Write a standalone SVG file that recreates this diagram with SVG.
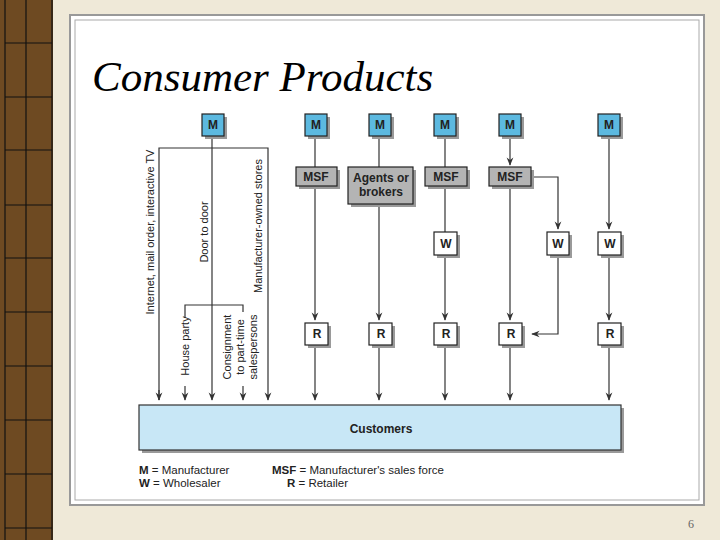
<svg xmlns="http://www.w3.org/2000/svg" width="720" height="540" viewBox="0 0 720 540">
<style>
.m{fill:#5cb9e0;stroke:#222;stroke-width:1.2}
.g{fill:#b4b4b4;stroke:#222;stroke-width:1.2}
.w{fill:#fff;stroke:#222;stroke-width:1.2}
.sh{fill:#9a9a9a}
.t{font-family:"Liberation Sans",Arial,sans-serif;font-size:12px;font-weight:bold;fill:#222;text-anchor:middle}
.l{font-family:"Liberation Sans",Arial,sans-serif;font-size:11px;fill:#222}
.c{stroke:#333;stroke-width:1.2;fill:none}
</style>
<defs>
<marker id="a" viewBox="0 0 10 10" refX="9" refY="5" markerWidth="7" markerHeight="7" orient="auto"><path d="M0,1 L10,5 L0,9 L3,5 z" fill="#333"/></marker>
</defs>
<rect width="720" height="540" fill="#efe9d8"/>
<rect x="0" y="0" width="53" height="540" fill="#6e4a22"/>
<g stroke="#111" stroke-width="1.2">
<line x1="26" y1="0" x2="26" y2="540"/><line x1="5" y1="0" x2="5" y2="540"/><line x1="52" y1="0" x2="52" y2="540"/>
<line x1="5" y1="43" x2="52" y2="43"/><line x1="5" y1="97" x2="52" y2="97"/><line x1="5" y1="150" x2="52" y2="150"/><line x1="5" y1="205" x2="52" y2="205"/><line x1="5" y1="258" x2="52" y2="258"/><line x1="5" y1="312" x2="52" y2="312"/><line x1="5" y1="366" x2="52" y2="366"/><line x1="5" y1="420" x2="52" y2="420"/><line x1="5" y1="474" x2="52" y2="474"/><line x1="5" y1="528" x2="52" y2="528"/>
</g>
<rect x="70" y="15" width="634" height="490" fill="#fff" stroke="#999" stroke-width="2"/>
<rect x="75" y="20" width="624" height="480" fill="#fff" stroke="#aaa" stroke-width="1"/>
<text x="92" y="91" font-family="Liberation Serif,serif" font-style="italic" font-size="43" fill="#000">Consumer Products</text>
<text x="688" y="528" font-family="Liberation Serif,serif" font-size="12" fill="#666">6</text>

<g id="connectors">
<line class="c" x1="212" y1="136" x2="212" y2="400" marker-end="url(#a)"/>
<polyline class="c" points="159,400 159,148 268,148 268,400" marker-end="url(#a)"/>
<line class="c" x1="159" y1="390" x2="159" y2="400" marker-end="url(#a)"/>
<polyline class="c" points="185,318 185,305 243,305 243,312"/>
<line class="c" x1="185" y1="386" x2="185" y2="400" marker-end="url(#a)"/>
<line class="c" x1="243" y1="386" x2="243" y2="400" marker-end="url(#a)"/>
<line class="c" x1="315" y1="136" x2="315" y2="167"/>
<line class="c" x1="315" y1="186" x2="315" y2="320" marker-end="url(#a)"/>
<line class="c" x1="379" y1="136" x2="379" y2="167"/>
<line class="c" x1="379" y1="205" x2="379" y2="320" marker-end="url(#a)"/>
<line class="c" x1="445" y1="136" x2="445" y2="167"/>
<line class="c" x1="445" y1="186" x2="445" y2="232"/>
<line class="c" x1="445" y1="256" x2="445" y2="320" marker-end="url(#a)"/>
<line class="c" x1="510" y1="136" x2="510" y2="165" marker-end="url(#a)"/>
<line class="c" x1="510" y1="186" x2="510" y2="320" marker-end="url(#a)"/>
<polyline class="c" points="532,177 558,177 558,229" marker-end="url(#a)"/>
<polyline class="c" points="558,256 558,334 532,334" marker-end="url(#a)"/>
<line class="c" x1="609" y1="136" x2="609" y2="229" marker-end="url(#a)"/>
<line class="c" x1="609" y1="256" x2="609" y2="320" marker-end="url(#a)"/>
<line class="c" x1="315" y1="346" x2="315" y2="400" marker-end="url(#a)"/>
<line class="c" x1="379" y1="346" x2="379" y2="400" marker-end="url(#a)"/>
<line class="c" x1="445" y1="346" x2="445" y2="400" marker-end="url(#a)"/>
<line class="c" x1="510" y1="346" x2="510" y2="400" marker-end="url(#a)"/>
<line class="c" x1="609" y1="346" x2="609" y2="400" marker-end="url(#a)"/>
</g>

<g id="labels" class="l">
<text transform="translate(154,232) rotate(-90)" text-anchor="middle">Internet, mail order, interactive TV</text>
<text transform="translate(208,232) rotate(-90)" text-anchor="middle">Door to door</text>
<text transform="translate(262,226) rotate(-90)" text-anchor="middle">Manufacturer-owned stores</text>
<text transform="translate(189,346) rotate(-90)" text-anchor="middle">House party</text>
<text transform="translate(231,347) rotate(-90)" text-anchor="middle">Consignment</text>
<text transform="translate(244,347) rotate(-90)" text-anchor="middle">to part-time</text>
<text transform="translate(257,347) rotate(-90)" text-anchor="middle">salespersons</text>
</g>

<g id="m1"><rect class="sh" x="205" y="117" width="22" height="22"/><rect class="m" x="202" y="114" width="22" height="22"/><text class="t" x="213" y="129">M</text></g>
<g id="m2"><rect class="sh" x="308" y="117" width="22" height="22"/><rect class="m" x="305" y="114" width="22" height="22"/><text class="t" x="316" y="129">M</text></g>
<g id="m3"><rect class="sh" x="372" y="117" width="22" height="22"/><rect class="m" x="369" y="114" width="22" height="22"/><text class="t" x="380" y="129">M</text></g>
<g id="m4"><rect class="sh" x="437" y="117" width="22" height="22"/><rect class="m" x="434" y="114" width="22" height="22"/><text class="t" x="445" y="129">M</text></g>
<g id="m5"><rect class="sh" x="502" y="117" width="22" height="22"/><rect class="m" x="499" y="114" width="22" height="22"/><text class="t" x="510" y="129">M</text></g>
<g id="m6"><rect class="sh" x="601" y="117" width="22" height="22"/><rect class="m" x="598" y="114" width="22" height="22"/><text class="t" x="609" y="129">M</text></g>

<g id="msf2"><rect class="sh" x="299" y="170" width="41" height="19"/><rect class="g" x="296" y="167" width="41" height="19"/><text class="t" x="316" y="181">MSF</text></g>
<g id="agents"><rect class="sh" x="351" y="170" width="65" height="37"/><rect class="g" x="348" y="167" width="65" height="37"/><text class="t" x="381" y="182">Agents or</text><text class="t" x="381" y="196">brokers</text></g>
<g id="msf4"><rect class="sh" x="428" y="170" width="42" height="19"/><rect class="g" x="425" y="167" width="42" height="19"/><text class="t" x="446" y="181">MSF</text></g>
<g id="msf5"><rect class="sh" x="492" y="170" width="42" height="19"/><rect class="g" x="489" y="167" width="42" height="19"/><text class="t" x="510" y="181">MSF</text></g>

<g id="w4"><rect class="sh" x="437" y="235" width="23" height="23"/><rect class="w" x="434" y="232" width="23" height="23"/><text class="t" x="446" y="248">W</text></g>
<g id="w5"><rect class="sh" x="550" y="235" width="22" height="23"/><rect class="w" x="547" y="232" width="22" height="23"/><text class="t" x="558" y="248">W</text></g>
<g id="w6"><rect class="sh" x="601" y="235" width="23" height="23"/><rect class="w" x="598" y="232" width="23" height="23"/><text class="t" x="610" y="248">W</text></g>

<g id="r2"><rect class="sh" x="308" y="326" width="23" height="22"/><rect class="w" x="305" y="323" width="23" height="22"/><text class="t" x="317" y="338">R</text></g>
<g id="r3"><rect class="sh" x="372" y="326" width="23" height="22"/><rect class="w" x="369" y="323" width="23" height="22"/><text class="t" x="381" y="338">R</text></g>
<g id="r4"><rect class="sh" x="437" y="326" width="23" height="22"/><rect class="w" x="434" y="323" width="23" height="22"/><text class="t" x="446" y="338">R</text></g>
<g id="r5"><rect class="sh" x="502" y="326" width="23" height="22"/><rect class="w" x="499" y="323" width="23" height="22"/><text class="t" x="511" y="338">R</text></g>
<g id="r6"><rect class="sh" x="601" y="326" width="23" height="22"/><rect class="w" x="598" y="323" width="23" height="22"/><text class="t" x="610" y="338">R</text></g>

<g id="customers"><rect class="sh" x="142" y="408" width="482" height="45"/><rect x="139" y="405" width="482" height="45" fill="#c8e7f6" stroke="#333" stroke-width="1.2"/><text class="t" x="381" y="433">Customers</text></g>

<g id="legend" font-family="Liberation Sans,Arial,sans-serif" font-size="11.5" fill="#222">
<text x="139" y="474"><tspan font-weight="bold">M</tspan> = Manufacturer</text>
<text x="139" y="487"><tspan font-weight="bold">W</tspan> = Wholesaler</text>
<text x="272" y="474"><tspan font-weight="bold">MSF</tspan> = Manufacturer's sales force</text>
<text x="287" y="487"><tspan font-weight="bold">R</tspan> = Retailer</text>
</g>
</svg>
